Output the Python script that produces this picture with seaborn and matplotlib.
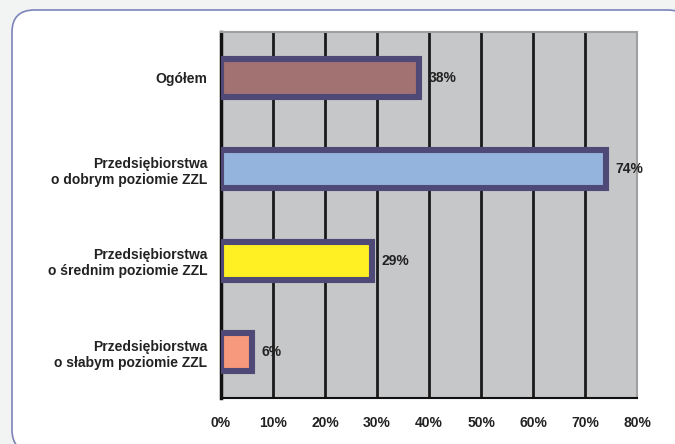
import pandas as pd
import numpy as np
import matplotlib
matplotlib.use("Agg")
import matplotlib.pyplot as plt
import seaborn as sns
from matplotlib.patches import FancyBboxPatch
from matplotlib.ticker import FuncFormatter, MultipleLocator, FixedLocator

# =========================
# DATA
# =========================
categories = [
    "Ogółem",
    "Przedsiębiorstwa\no dobrym poziomie ZZL",
    "Przedsiębiorstwa\no średnim poziomie ZZL",
    "Przedsiębiorstwa\no słabym poziomie ZZL",
]
values = [38, 74, 29, 6]
bar_colors = ["#a27272", "#94b4de", "#fff023", "#f7997c"]

df = pd.DataFrame({"kategoria": categories, "procent": values})

# =========================
# STYLE
# =========================
sns.set_theme(style="white")
plt.rcParams["font.family"] = ["Liberation Sans", "DejaVu Sans"]
text_col = "#222222"
fs = 10

fig = plt.figure(figsize=(6.75, 4.44), dpi=100, facecolor="#f2f3f3")

# white rounded panel (runs off the right and bottom edges)
panel = FancyBboxPatch(
    (12 / 675, -8 / 444), 678 / 675, 442 / 444,
    boxstyle="round,pad=0,rounding_size=0.033",
    transform=fig.transFigure, facecolor="white",
    edgecolor="#7c84b8", linewidth=1.2, zorder=-5,
    mutation_aspect=675 / 444,
)
fig.patches.append(panel)

ax = fig.add_axes([221 / 675, 1 - 398 / 444, 416 / 675, 366 / 444])
ax.set_zorder(2)
ax.set_facecolor("#c6c7c9")

sns.barplot(
    data=df, y="kategoria", x="procent", hue="kategoria",
    palette=bar_colors, orient="h", width=0.42, legend=False,
    edgecolor="#4e4976", linewidth=4.4, saturation=1, ax=ax, zorder=3,
)

ax.set_xlim(0, 80)
ax.set_ylim(3.5, -0.5)
ax.xaxis.set_major_locator(MultipleLocator(10))
ax.xaxis.set_major_formatter(FuncFormatter(lambda v, p: f"{v:.0f}%"))
ax.grid(axis="x", color="#1a1a1a", linewidth=2.0, zorder=1)
ax.grid(axis="y", visible=False)
ax.set_axisbelow(True)

ax.set_xlabel("")
ax.set_ylabel("")

# value labels
for i, v in enumerate(values):
    ax.annotate(f"{v}%", xy=(v, i), xytext=(7, 0), textcoords="offset points",
                va="center", ha="left", fontsize=fs, fontweight="bold",
                color=text_col, zorder=5)

# ticks
ax.tick_params(axis="y", which="major", length=0, pad=10, labelsize=fs,
               labelcolor=text_col)
ax.yaxis.set_minor_locator(FixedLocator([0.5, 1.5, 2.5]))
ax.tick_params(axis="y", which="minor", length=3, width=2, color="#111111",
               direction="out")
ax.tick_params(axis="x", which="major", length=4, width=1.5, color="#111111",
               pad=9, labelsize=fs, labelcolor=text_col)
for lab in ax.get_xticklabels() + ax.get_yticklabels():
    lab.set_fontweight("bold")

for side in ["top", "right"]:
    ax.spines[side].set_color("#a0a0a0")
    ax.spines[side].set_linewidth(1.5)
ax.spines["left"].set_color("#111111")
ax.spines["left"].set_linewidth(2.5)
ax.spines["bottom"].set_color("#111111")
ax.spines["bottom"].set_linewidth(1.5)

fig.savefig("out.png", dpi=100, facecolor=fig.get_facecolor())
